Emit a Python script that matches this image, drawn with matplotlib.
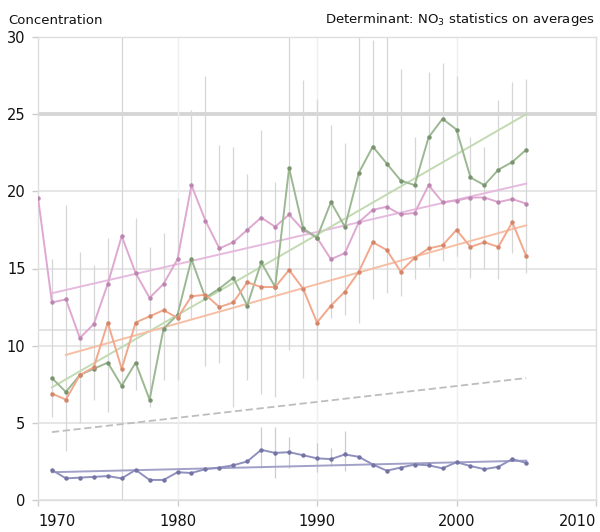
import matplotlib as mpl
mpl.use('Agg')
import matplotlib.pyplot as plt
import numpy as np

years = np.arange(1970, 2006)
nan = np.nan

pink = [19.6, 12.8, 13.0, 10.5, 11.4, 14.0, 17.1, 14.7, 13.1, 14.0, 15.6, 20.4,
        18.1, 16.3, 16.7, 17.5, 18.3, 17.7, 18.5, 17.5, 17.0, 15.6, 16.0, 18.0,
        18.8, 19.0, 18.5, 18.6, 20.4, 19.3, 19.4, 19.6, 19.6, 19.3, 19.5, 19.2]
green = [nan, 7.9, 7.0, 8.1, 8.5, 8.9, 7.4, 8.9, 6.5, 11.1, 12.0, 15.6,
         13.1, 13.7, 14.4, 12.6, 15.4, 13.8, 21.5, 17.6, 17.0, 19.3, 17.7, 21.2,
         22.9, 21.8, 20.7, 20.4, 23.5, 24.7, 24.0, 20.9, 20.4, 21.4, 21.9, 22.7]
orange = [nan, 6.9, 6.5, 8.1, 8.6, 11.5, 8.5, 11.5, 11.9, 12.3, 11.8, 13.2,
          13.3, 12.5, 12.8, 14.1, 13.8, 13.8, 14.9, 13.7, 11.5, 12.6, 13.5, 14.8,
          16.7, 16.2, 14.8, 15.7, 16.3, 16.5, 17.5, 16.4, 16.7, 16.4, 18.0, 15.8]
blue = [nan, 1.95, 1.4, 1.45, 1.5, 1.55, 1.4, 1.95, 1.3, 1.3, 1.8, 1.75,
        2.0, 2.1, 2.25, 2.5, 3.25, 3.05, 3.1, 2.9, 2.7, 2.65, 2.95, 2.8,
        2.3, 1.9, 2.1, 2.3, 2.25, 2.05, 2.45, 2.2, 2.0, 2.15, 2.65, 2.4]

# linear trends (start/end)
pink_trend = ([1971, 2005], [13.4, 20.5])
green_trend = ([1971, 2005], [7.3, 25.0])
orange_trend = ([1972, 2005], [9.4, 17.8])
blue_trend = ([1971, 2005], [1.8, 2.55])
grey_trend = ([1971, 2005], [4.4, 7.9])

# yearly min/max ranges
range_years = np.arange(1971, 2006)
range_lo = [5.4, 3.2, 5.0, 6.5, 5.7, 0.0, 7.1, 6.0, 7.8, 7.8, 11.7, 8.7,
            8.9, 6.0, 7.8, 6.9, 6.7, 9.7, 7.9, 7.8, 11.8, 12.0, 11.5, 13.0,
            13.4, 13.2, 14.3, 15.1, 15.5, 15.8, 14.4, 15.0, 14.3, 16.0, 14.7]
range_hi = [15.6, 19.1, 16.1, 15.2, 17.0, 30.0, 18.3, 16.4, 17.3, 19.6, 25.3, 27.5,
            23.0, 22.9, 21.1, 24.0, 20.6, 30.0, 27.2, 26.0, 24.3, 23.1, 30.0, 29.8,
            30.0, 27.9, 23.5, 27.7, 28.3, 27.5, 23.5, 22.9, 25.9, 27.1, 27.3]
blue_range_years = [1986, 1987, 1988, 1990, 1991, 1992]
blue_lo = [2.1, 1.4, 2.1, 1.8, 2.2, 1.9]
blue_hi = [4.7, 4.7, 4.1, 3.7, 3.4, 4.5]

threshold = 11.0

fig = plt.figure(figsize=(6.0, 5.32), dpi=100)
ax = fig.add_axes([38 / 600, 1 - 500 / 532, 558 / 600, 463 / 532])

# grid
for v in [0, 5, 10, 15, 20, 30]:
    ax.axhline(v, color='#e4e4e4', lw=1.3, zorder=0)
ax.axhline(25, color='#d6d6d6', lw=2.8, zorder=0)
ax.axhline(threshold, color='#e2e2e2', lw=1.3, zorder=0)
for v in [1980, 1990, 2000]:
    ax.axvline(v, color='#efefef', lw=1.0, zorder=0)

ax.vlines(range_years, range_lo, range_hi, color='#d6d6d6', lw=0.9, zorder=1)
ax.vlines(blue_range_years, blue_lo, blue_hi, color='#cacada', lw=0.9, zorder=1)

ax.plot(*grey_trend, color='#bdbdbd', lw=1.3, ls=(0, (4, 2)), zorder=2)
ax.plot(*pink_trend, color='#e6bade', lw=1.4, zorder=2)
ax.plot(*green_trend, color='#c2dab2', lw=1.4, zorder=2)
ax.plot(*orange_trend, color='#f6bea4', lw=1.4, zorder=2)
ax.plot(*blue_trend, color='#a0a0c8', lw=1.4, zorder=2)

series = [
    (pink, '#dea8d0', '#bc86b0'),
    (green, '#9cb892', '#7a9470'),
    (orange, '#f2a88c', '#d4866a'),
    (blue, '#9090be', '#7474a4'),
]
for vals, col, mcol in series:
    ax.plot(years, vals, color=col, lw=1.4, marker='o', ms=2.2,
            mfc=mcol, mec=mcol, zorder=3)

ax.set_xlim(1970, 2010)
ax.set_ylim(0, 30)
for s in ax.spines.values():
    s.set_color('#dedede')
    s.set_linewidth(1.0)

ax.set_yticks([0, 5, 10, 15, 20, 25, 30])
ax.set_xticks([1970, 1980, 1990, 2000, 2010])
ax.tick_params(axis='both', colors='#cccccc', labelcolor='#111111',
               labelsize=10.5, length=4, width=1)
ax.tick_params(axis='y', pad=5)
ax.tick_params(axis='x', pad=6)
xl = ax.get_xticklabels()
xl[0].set_horizontalalignment('left')
xl[-1].set_horizontalalignment('right')

fig.text(8 / 600, 1 - 20 / 532, 'Concentration', fontsize=9.5,
         ha='left', va='center', color='#111111')
fig.text(595 / 600, 1 - 20 / 532, 'Determinant: NO$_3$ statistics on averages',
         fontsize=9.5, ha='right', va='center', color='#111111')

fig.savefig('out.png', dpi=100)
